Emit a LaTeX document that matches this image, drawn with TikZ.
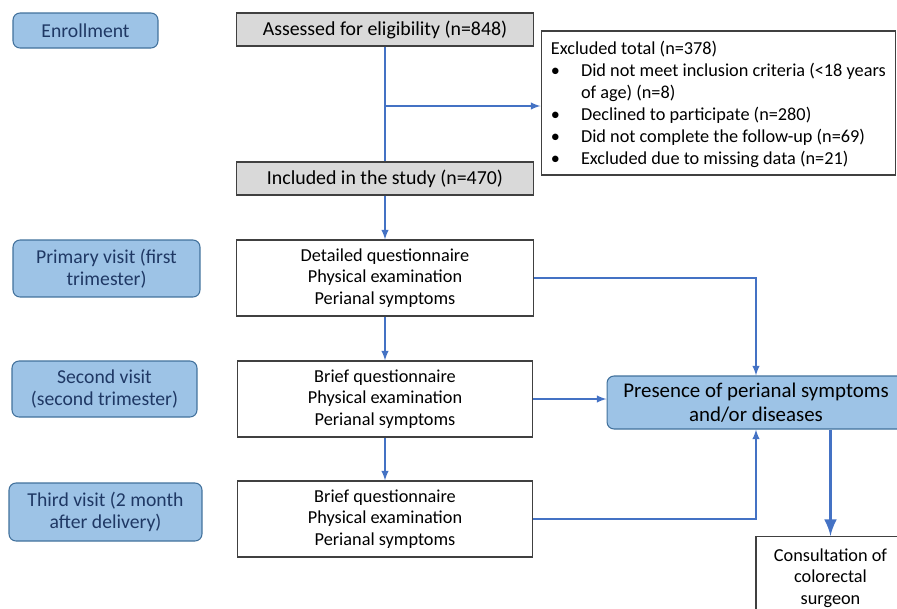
\documentclass[tikz,border=0pt]{standalone}
\usepackage{fontspec}
\setmainfont{Carlito}
\usetikzlibrary{positioning,arrows}

\definecolor{stageblue}{HTML}{9DC3E6}
\definecolor{stageline}{HTML}{41719C}
\definecolor{stagetext}{HTML}{1F3864}
\definecolor{flowblue}{HTML}{4472C4}
\definecolor{boxgray}{HTML}{D9D9D9}
\definecolor{boxline}{HTML}{404040}

\begin{document}
\begin{tikzpicture}[x=0.02cm,y=-0.02cm,
  stage/.style={draw=stageline,fill=stageblue,rounded corners=4pt,line width=0.6pt,
    text=stagetext,align=center,inner sep=0pt,font=\fontsize{11.2}{12.8}\selectfont},
  graybox/.style={draw=boxline,fill=boxgray,line width=0.6pt,inner sep=0pt,
    font=\fontsize{11.3}{12.8}\selectfont},
  visitbox/.style={draw=boxline,fill=white,line width=0.6pt,inner sep=0pt,align=center,
    font=\fontsize{10.4}{12.2}\selectfont},
  flow/.style={draw=flowblue,line width=0.9pt,-latex},
  link/.style={draw=flowblue,line width=0.9pt}]

\useasboundingbox (0,0) rectangle (897,609);
\clip (0,0) rectangle (897,609);

% stages on the left
\node[stage,minimum width=2.9cm,minimum height=0.7cm] (enroll) at (85.5,30.5) {Enrollment};
\node[stage,minimum width=3.74cm,minimum height=1.14cm] (prim) at (106.5,268.5) {Primary visit (first\\trimester)};
\node[stage,minimum width=3.7cm,minimum height=1.12cm] (sec) at (104.5,389) {Second visit\\(second trimester)};
\node[stage,minimum width=3.86cm,minimum height=1.16cm] (third) at (105.5,512) {Third visit (2 month\\after delivery)};

% main column
\node[graybox,minimum width=5.94cm,minimum height=0.66cm] (assess) at (385,29.5) {Assessed for eligibility (n=848)};
\node[graybox,minimum width=5.94cm,minimum height=0.66cm] (incl) at (385,178.5) {Included in the study (n=470)};

\node[draw=boxline,fill=white,line width=0.6pt,minimum width=7.1cm,minimum height=2.88cm,
  inner sep=0pt] (excl) at (718.5,103) {};
\node[anchor=north west,inner sep=0pt,align=left,font=\fontsize{10.4}{12.5}\selectfont] (excltxt)
  at ([xshift=0.2cm,yshift=-0.16cm]excl.north west) {%
  \begin{tabular}{@{}l@{\hspace{12pt}}l@{}}
  \multicolumn{2}{@{}l}{Excluded total (n=378)}\\
  \textbullet & Did not meet inclusion criteria (<18 years\\
   & of age) (n=8)\\
  \textbullet & Declined to participate (n=280)\\
  \textbullet & Did not complete the follow-up (n=69)\\
  \textbullet & Excluded due to missing data (n=21)
  \end{tabular}};

\node[visitbox,minimum width=5.94cm,minimum height=1.52cm] (b1) at (385,278) {Detailed questionnaire\\Physical examination\\Perianal symptoms};
\node[visitbox,minimum width=5.9cm,minimum height=1.52cm] (b2) at (385,399) {Brief questionnaire\\Physical examination\\Perianal symptoms};
\node[visitbox,minimum width=5.9cm,minimum height=1.52cm] (b3) at (385,519) {Brief questionnaire\\Physical examination\\Perianal symptoms};

% right side
\node[stage,text=black,minimum width=5.96cm,minimum height=1.06cm,font=\fontsize{11.9}{14}\selectfont] (pres) at (756,402.5) {Presence of perianal symptoms\\and/or diseases};
\node[visitbox,minimum width=2.98cm,minimum height=1.66cm] (cons) at (830.5,578) {Consultation of\\colorectal\\surgeon};

\coordinate (split) at (385,106);

\draw[link] (assess.south) -- (incl.north);
\draw[flow] (split) -- (split -| excl.west);
\foreach \x/\y in {incl/b1,b1/b2,b2/b3}
  \draw[flow] (\x.south) -- (\y.north);

\draw[flow] (b1.east) -| (pres.north);
\draw[flow] (b2.east) -- (b2.east -| pres.west);
\draw[flow] (b3.east) -| (pres.south);
\draw[draw=flowblue,line width=2.2pt,-latex] (pres.south -| cons.north) -- (cons.north);
\end{tikzpicture}
\end{document}
